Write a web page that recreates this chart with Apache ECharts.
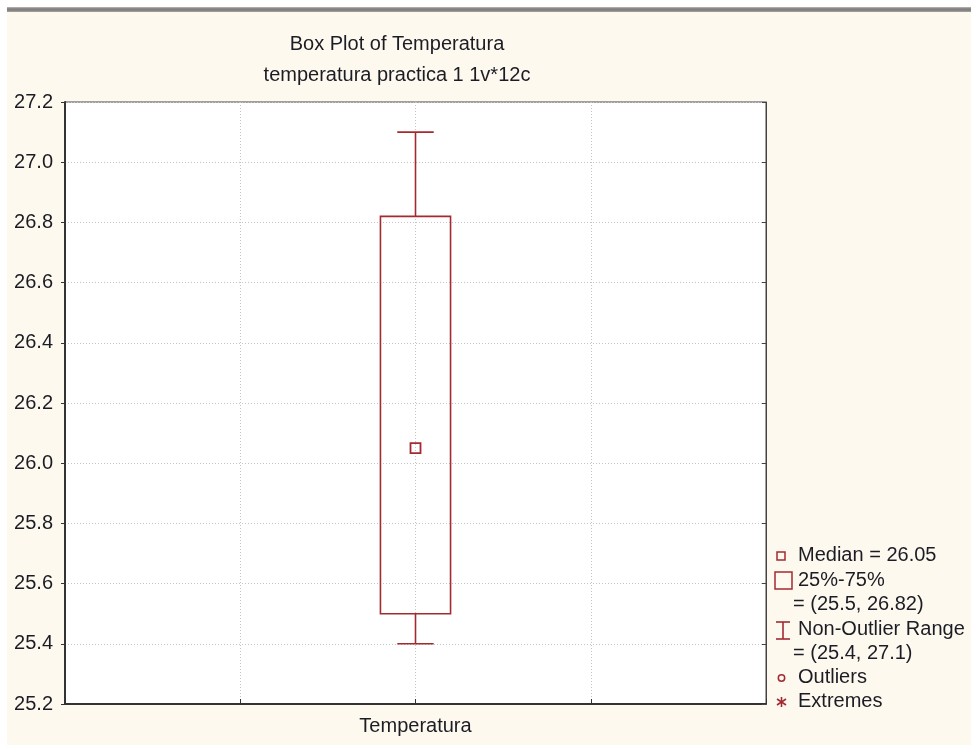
<!DOCTYPE html>
<html>
<head>
<meta charset="utf-8">
<script src="https://cdn.jsdelivr.net/npm/echarts@6/dist/echarts.min.js"></script>
<style>
  html, body { margin: 0; padding: 0; background: #fff; }
  /* window frame: grey bar + cream panel */
  .bar { position: absolute; left: 7px; top: 7px; width: 964px; height: 5px;
         background: linear-gradient(#c9b8ae, #8a8a8a 30%, #7a7a7a 60%, #a8a8a8); }
  .panel { position: absolute; left: 7px; top: 12px; width: 964px; height: 733px; background: #fdf9ef; }
  #chart { position: absolute; left: 0; top: 0; width: 971px; height: 747px; }
</style>
</head>
<body>
<div class="bar"></div>
<div class="panel"></div>
<div id="chart"></div>
<script>
// 数据
const categories = ['Temperatura']
const boxMin = [25.4]
const boxQ1 = [25.5]
const boxMedian = [26.05]
const boxQ3 = [26.82]
const boxMax = [27.1]
const yTicks = [25.2, 25.4, 25.6, 25.8, 26.0, 26.2, 26.4, 26.6, 26.8, 27.0, 27.2]
const yStep = 0.2

const titleText = 'Box Plot of Temperatura'
const subTitleText = 'temperatura practica 1 1v*12c'

// x轴: 5个刻度位置, 箱体放在中间
const xSlots = ['', '', categories[0], '', '']
const boxSlot = 2

const red = '#a32a31'
const textColor = '#1c1c24'
const font = '"Liberation Sans", Arial, sans-serif'

const chart = echarts.init(document.getElementById('chart'))

const lineEl = (x1, y1, x2, y2) => ({
    type: 'line',
    shape: { x1, y1, x2, y2 },
    style: { stroke: red, lineWidth: 1.6 }
})

// 图例 (右侧)
const legendX = 798
const legendRows = [
    { y: 556, text: 'Median = ' + boxMedian[0] },
    { y: 581, text: '25%-75%' },
    { y: 605, text: '= (' + boxQ1[0] + ', ' + boxQ3[0] + ')', indent: -5 },
    { y: 630, text: 'Non-Outlier Range' },
    { y: 654, text: '= (' + boxMin[0] + ', ' + boxMax[0] + ')', indent: -5 },
    { y: 678, text: 'Outliers' },
    { y: 702, text: 'Extremes' }
]
const legendGraphics = legendRows.map(r => ({
    type: 'text',
    left: legendX + (r.indent || 0),
    top: r.y - 11,
    style: { text: r.text, fill: textColor, font: '20px ' + font }
}))
legendGraphics.push(
    { type: 'rect', shape: { x: 777, y: 552, width: 8, height: 8 }, style: { fill: 'none', stroke: red, lineWidth: 1.5 } },
    { type: 'rect', shape: { x: 775, y: 572, width: 17, height: 17 }, style: { fill: 'none', stroke: red, lineWidth: 1.5 } },
    lineEl(776, 622, 790, 622),
    lineEl(776, 639, 790, 639),
    lineEl(783, 622, 783, 639),
    { type: 'circle', shape: { cx: 781.5, cy: 678, r: 3.2 }, style: { fill: 'none', stroke: red, lineWidth: 1.5 } },
    lineEl(781.5, 697, 781.5, 707),
    lineEl(777, 699, 786, 705),
    lineEl(777, 705, 786, 699)
)

chart.setOption({
    backgroundColor: 'transparent',
    animation: false,
    title: {
        text: titleText,
        subtext: subTitleText,
        left: 392,
        top: 28,
        textAlign: 'center',
        itemGap: 9,
        textStyle: { color: textColor, fontSize: 20, fontWeight: 'normal', fontFamily: font, lineHeight: 22 },
        subtextStyle: { color: textColor, fontSize: 20, fontFamily: font, lineHeight: 22 }
    },
    grid: {
        left: 65,
        top: 102,
        right: 205,
        bottom: 43,
        show: true,
        backgroundColor: '#ffffff',
        borderColor: '#444',
        borderWidth: 1
    },
    xAxis: {
        type: 'category',
        data: xSlots,
        boundaryGap: false,
        axisLine: { show: true, lineStyle: { color: '#333', width: 2 } },
        axisTick: { show: true, inside: true, length: 5, interval: 0, lineStyle: { color: '#333' } },
        axisLabel: { interval: 0, color: textColor, fontSize: 20, fontFamily: font, margin: 12 },
        splitLine: { show: true, interval: 0, lineStyle: { color: '#c4c4c4', type: [1, 2] } }
    },
    yAxis: [
        {
            type: 'value',
            min: yTicks[0],
            max: yTicks[yTicks.length - 1],
            interval: yStep,
            axisLine: { show: true, lineStyle: { color: '#333', width: 2 } },
            axisTick: { show: true, length: 4, lineStyle: { color: '#333' } },
            axisLabel: { color: textColor, fontSize: 20, fontFamily: font, margin: 12, formatter: v => v.toFixed(1) },
            splitLine: { show: true, lineStyle: { color: '#c4c4c4', type: [1, 2] } }
        },
        {
            type: 'value',
            position: 'right',
            min: yTicks[0],
            max: yTicks[yTicks.length - 1],
            interval: yStep,
            axisLine: { show: true, lineStyle: { color: '#444', width: 1 } },
            axisTick: { show: true, inside: true, length: 4, lineStyle: { color: '#444' } },
            axisLabel: { show: false },
            splitLine: { show: false }
        }
    ],
    series: [
        {
            type: 'custom',
            clip: false,
            data: categories.map((c, i) => [boxSlot + i, boxMin[i], boxQ1[i], boxMedian[i], boxQ3[i], boxMax[i]]),
            encode: { x: 0, y: [1, 2, 3, 4, 5] },
            renderItem: (params, api) => {
                const xi = api.value(0)
                const pMin = api.coord([xi, api.value(1)])
                const pQ1 = api.coord([xi, api.value(2)])
                const pMed = api.coord([xi, api.value(3)])
                const pQ3 = api.coord([xi, api.value(4)])
                const pMax = api.coord([xi, api.value(5)])
                const band = api.size([1, 0])[0]
                const boxHalf = band * 0.2
                const capHalf = band * 0.104
                const x = pMed[0]
                return {
                    type: 'group',
                    children: [
                        lineEl(x, pQ3[1], x, pMax[1]),
                        lineEl(x - capHalf, pMax[1], x + capHalf, pMax[1]),
                        lineEl(x, pQ1[1], x, pMin[1]),
                        lineEl(x - capHalf, pMin[1], x + capHalf, pMin[1]),
                        {
                            type: 'rect',
                            shape: { x: x - boxHalf, y: pQ3[1], width: boxHalf * 2, height: pQ1[1] - pQ3[1] },
                            style: { fill: 'none', stroke: red, lineWidth: 1.6 }
                        },
                        {
                            type: 'rect',
                            shape: { x: x - 5, y: pMed[1] - 5, width: 10, height: 10 },
                            style: { fill: 'none', stroke: red, lineWidth: 1.8 }
                        }
                    ]
                }
            }
        }
    ],
    graphic: legendGraphics
})
</script>
</body>
</html>
